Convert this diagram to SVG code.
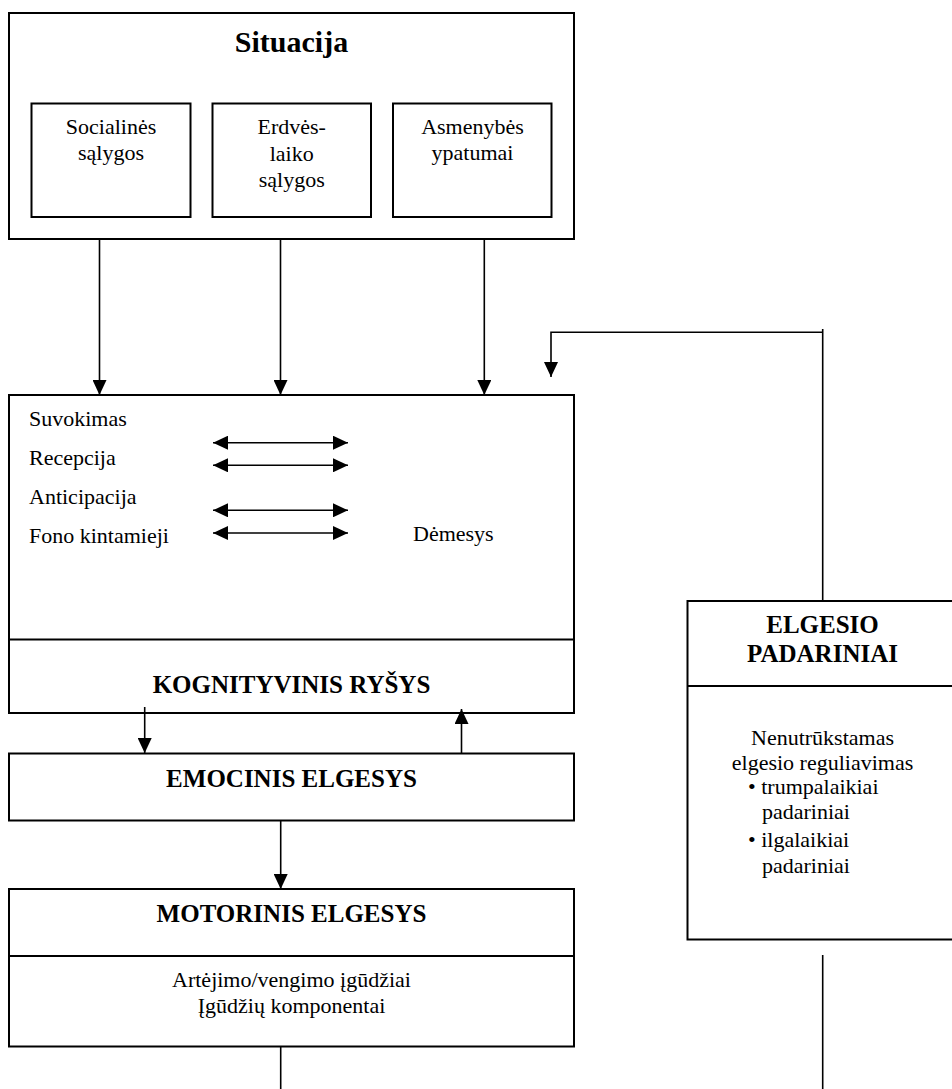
<svg xmlns="http://www.w3.org/2000/svg" width="952" height="1089" viewBox="0 0 952 1089">
<style>
  .box{fill:#fff;stroke:#000;stroke-width:2}
  .div{stroke:#000;stroke-width:2}
  .t{font-family:"Liberation Serif","Times New Roman",serif;font-size:22px;fill:#000}
  .b{font-family:"Liberation Serif","Times New Roman",serif;font-size:25px;font-weight:bold;fill:#000}
  .c{text-anchor:middle}
  .ln{fill:none;stroke:#000;stroke-width:1.6}
</style>
<defs>
  <marker id="ah" markerUnits="userSpaceOnUse" markerWidth="15" markerHeight="14" refX="15" refY="7" orient="auto-start-reverse">
    <path d="M0,0 L15,7 L0,14 z" fill="#000"/>
  </marker>
</defs>
<rect width="952" height="1089" fill="#fff"/>

<g id="situacija">
  <rect class="box" x="9" y="13" width="565" height="226"/>
  <text class="b c" x="291.5" y="52" style="font-size:30px">Situacija</text>
</g>
<g id="socialines">
  <rect class="box" x="31.5" y="103.5" width="159" height="113.5"/>
  <text class="t c" x="111" y="134">Socialinės</text>
  <text class="t c" x="111" y="160">sąlygos</text>
</g>
<g id="erdves">
  <rect class="box" x="212.5" y="103.5" width="158.5" height="113.5"/>
  <text class="t c" x="291.7" y="134">Erdvės-</text>
  <text class="t c" x="291.7" y="160.5">laiko</text>
  <text class="t c" x="291.7" y="186.5">sąlygos</text>
</g>
<g id="asmenybes">
  <rect class="box" x="393" y="103.5" width="158.5" height="113.5"/>
  <text class="t c" x="472.5" y="134">Asmenybės</text>
  <text class="t c" x="472.5" y="160">ypatumai</text>
</g>

<g id="kognityvinis">
  <rect class="box" x="9" y="395" width="565" height="318"/>
  <line class="div" x1="9" y1="639.5" x2="574" y2="639.5"/>
  <text class="t" x="29" y="425.5">Suvokimas</text>
  <text class="t" x="29" y="465">Recepcija</text>
  <text class="t" x="29" y="504">Anticipacija</text>
  <text class="t" x="29" y="542.5">Fono kintamieji</text>
  <text class="t" x="413" y="541">Dėmesys</text>
  <text class="b c" x="291.5" y="693">KOGNITYVINIS RYŠYS</text>
</g>

<g id="emocinis">
  <rect class="box" x="9" y="753.5" width="565" height="67"/>
  <text class="b c" x="291.5" y="787">EMOCINIS ELGESYS</text>
</g>

<g id="motorinis">
  <rect class="box" x="9" y="889" width="565" height="157.5"/>
  <line class="div" x1="9" y1="956" x2="574" y2="956"/>
  <text class="b c" x="291.5" y="921.5">MOTORINIS ELGESYS</text>
  <text class="t c" x="291.5" y="986.5">Artėjimo/vengimo įgūdžiai</text>
  <text class="t c" x="291.5" y="1013">Įgūdžių komponentai</text>
</g>

<g id="padariniai">
  <rect class="box" x="687.5" y="601" width="272" height="338.5"/>
  <line class="div" x1="687.5" y1="686" x2="952" y2="686"/>
  <text class="b c" x="822.5" y="633">ELGESIO</text>
  <text class="b c" x="822.5" y="661.5">PADARINIAI</text>
  <text class="t c" x="822.5" y="745">Nenutrūkstamas</text>
  <text class="t c" x="822.5" y="770">elgesio reguliavimas</text>
  <text class="t" x="748" y="793.5">• trumpalaikiai</text>
  <text class="t" x="762" y="818.5">padariniai</text>
  <text class="t" x="748" y="846.5">• ilgalaikiai</text>
  <text class="t" x="762" y="873">padariniai</text>
</g>

<g id="connectors">
  <line class="ln" x1="99.5" y1="239" x2="99.5" y2="395" marker-end="url(#ah)"/>
  <line class="ln" x1="280.5" y1="239" x2="280.5" y2="395" marker-end="url(#ah)"/>
  <line class="ln" x1="484.3" y1="239" x2="484.3" y2="395" marker-end="url(#ah)"/>
  <path class="ln" d="M822.7,329 V601"/>
  <path class="ln" d="M822.7,332.3 H551 V377" marker-end="url(#ah)"/>
  <line class="ln" x1="213" y1="442.7" x2="348" y2="442.7" marker-start="url(#ah)" marker-end="url(#ah)"/>
  <line class="ln" x1="213" y1="465.3" x2="348" y2="465.3" marker-start="url(#ah)" marker-end="url(#ah)"/>
  <line class="ln" x1="213" y1="510.3" x2="348" y2="510.3" marker-start="url(#ah)" marker-end="url(#ah)"/>
  <line class="ln" x1="213" y1="533" x2="348" y2="533" marker-start="url(#ah)" marker-end="url(#ah)"/>
  <line class="ln" x1="144.7" y1="707" x2="144.7" y2="753" marker-end="url(#ah)"/>
  <line class="ln" x1="461.5" y1="753" x2="461.5" y2="709" marker-end="url(#ah)"/>
  <line class="ln" x1="280.7" y1="821" x2="280.7" y2="889" marker-end="url(#ah)"/>
  <line class="ln" x1="280.7" y1="1046.5" x2="280.7" y2="1089"/>
  <line class="ln" x1="822.7" y1="955" x2="822.7" y2="1089"/>
</g>
</svg>
